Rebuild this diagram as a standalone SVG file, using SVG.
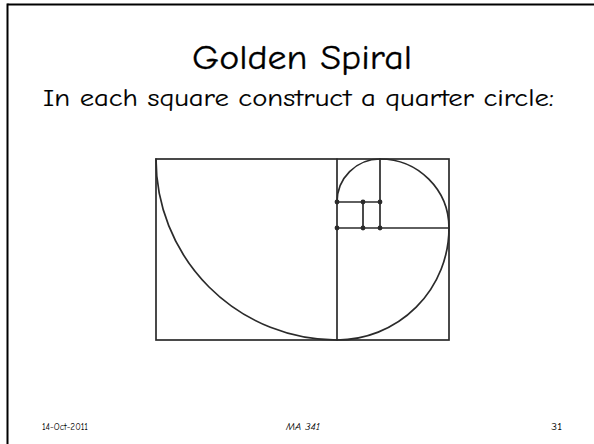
<svg xmlns="http://www.w3.org/2000/svg" width="594" height="444" viewBox="0 0 594 444">
<style>
.frame{stroke:#000;stroke-width:2;fill:none}
.ln{stroke:#2b2b2b;stroke-width:1.7;fill:none;stroke-linecap:round}
.dot{fill:#2b2b2b}
.t{font-family:"Comic Sans MS","Comic Neue","DejaVu Sans",sans-serif;fill:#000}
</style>
<rect width="594" height="444" fill="#fff"/>
<g id="frame">
<line class="frame" x1="7.5" y1="4.5" x2="594" y2="4.5"/>
<line class="frame" x1="7.5" y1="3.5" x2="7.5" y2="444"/>
</g>
<g id="title">
<text class="t" x="302" y="69" font-size="35" text-anchor="middle" textLength="220" lengthAdjust="spacingAndGlyphs" stroke="#000" stroke-width="0.3">Golden Spiral</text>
</g>
<g id="subtitle">
<text class="t" x="298.5" y="106" font-size="24" text-anchor="middle" textLength="511" lengthAdjust="spacingAndGlyphs" stroke="#000" stroke-width="0.15">In each square construct a quarter circle:</text>
</g>
<g id="squares">
<rect class="ln" x="156" y="159" width="293" height="181"/>
<line class="ln" x1="337" y1="159" x2="337" y2="340"/>
<line class="ln" x1="337" y1="228" x2="449" y2="228"/>
<line class="ln" x1="380" y1="159" x2="380" y2="228"/>
<line class="ln" x1="337" y1="202" x2="380" y2="202"/>
<line class="ln" x1="363" y1="202" x2="363" y2="228"/>
</g>
<g id="spiral">
<path class="ln" d="M156,159 A181,181 0 0 0 337,340 A112,112 0 0 0 449,228 A69,69 0 0 0 380,159 A43,43 0 0 0 337,202"/>
</g>
<g id="dots">
<circle class="dot" cx="337" cy="202" r="2.4"/>
<circle class="dot" cx="363" cy="202" r="2.4"/>
<circle class="dot" cx="380" cy="202" r="2.4"/>
<circle class="dot" cx="337" cy="228" r="2.4"/>
<circle class="dot" cx="363" cy="228" r="2.4"/>
<circle class="dot" cx="380" cy="228" r="2.4"/>
</g>
<g id="footer">
<text class="t" x="42" y="430" font-size="10" textLength="46" lengthAdjust="spacingAndGlyphs">14-Oct-2011</text>
<text class="t" x="303" y="430" font-size="10" text-anchor="middle" font-style="italic" textLength="34" lengthAdjust="spacingAndGlyphs">MA 341</text>
<text class="t" x="551" y="430" font-size="10" textLength="11" lengthAdjust="spacingAndGlyphs">31</text>
</g>
</svg>
